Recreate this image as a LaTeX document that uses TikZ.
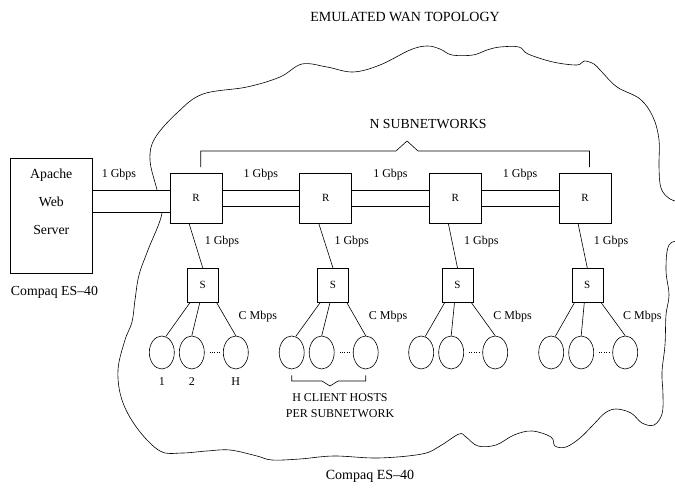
\documentclass[tikz,border=0pt]{standalone}
\usepackage{fontspec}
\setmainfont{Liberation Serif}
\usetikzlibrary{shapes.geometric}

\begin{document}
\begin{tikzpicture}[x=1pt,y=-1pt,line width=0.6pt,
  router/.style={draw,minimum width=52pt,minimum height=50pt,inner sep=0pt,font=\fontsize{11}{13}\selectfont},
  switch/.style={draw,minimum width=31pt,minimum height=34pt,inner sep=0pt,font=\fontsize{11}{13}\selectfont},
  host/.style={draw,ellipse,minimum width=25pt,minimum height=33pt,inner sep=0pt},
  lbl/.style={font=\fontsize{12}{16}\selectfont,inner sep=0pt},
  big/.style={font=\fontsize{13.8}{16}\selectfont,inner sep=0pt}]
\useasboundingbox (0,0) rectangle (675,489);
% the cloud
\draw plot[smooth cycle,tension=0.6] coordinates {(157,190) (150,160) (155,138) (178,112) (203,94) (247,87) (280,77) (302,64) (327,67) (353,72) (380,65) (410,50) (427,46) (440,49) (452,55) (473,55) (487,50) (500,47) (519,47) (528,54) (553,62) (577,65) (584,61) (594,64) (601,71) (617,87) (640,99) (653,117) (659,140) (659,167) (661,188) (670,199) (685,205) (690,222) (683,238) (669,245) (666,270) (669,295) (666,315) (665,345) (662,372) (663,395) (662,414) (654,425) (642,423) (631,413) (616,409) (605,413) (594,424) (580,438) (566,447) (555,446) (551,437) (532,431) (514,435) (496,445) (478,446) (466,437) (459,434) (440,446) (422,454) (378,458) (334,456) (300,459) (272,460) (257,456) (230,450) (207,451) (182,453) (160,451) (137,428) (122,400) (118,370) (125,340) (132,322) (135,300) (139,275) (148,250) (162,213)};
\node[inner sep=0pt,font=\fontsize{14}{16}\selectfont] (title) at (405,17) {EMULATED WAN TOPOLOGY};
\node[inner sep=0pt,font=\fontsize{14}{16}\selectfont] (machine) at (370,476) {Compaq ES–40};
% web server
\node[draw,minimum width=82pt,minimum height=115pt] (apache) at (51.3,215.7) {};
\node[align=center,inner sep=0pt,font=\fontsize{13.8}{28}\selectfont] (apachetxt) at (51.3,202) {Apache\\Web\\Server};
\node[big] (server) at (54.5,292) {Compaq ES–40};
% subnetworks
\foreach \i/\r/\s/\h in {1/196/202.8/161.8,2/325.7/333/291.7,3/455.3/457.5/421.2,4/585/587.3/551.2}{
  \node[router] (r\i) at (\r,198) {R};
  \node[switch] (s\i) at (\s,285.3) {S};
  \node[host] (ha\i) at (\h,352.5) {};
  \node[host] (hb\i) at (\h+30,352.5) {};
  \node[host] (hc\i) at (\h+74,352.5) {};
  \draw ([xshift=-7pt]r\i.south) -- (s\i.north);
  \draw ([xshift=3pt]s\i.south west) -- (ha\i.76);
  \draw ([xshift=-3pt]s\i.south) -- (hb\i.north);
  \draw ([xshift=-2pt]s\i.south east) -- (hc\i.north);
  \draw[dash pattern=on 0.6pt off 1.8pt] ([xshift=5pt]hb\i.east) -- ([xshift=-2pt]hc\i.west);
  \node[lbl] (up\i) at (\r+26,241.7) {1 Gbps};
  \node[lbl] (down\i) at (\s+55,317) {C Mbps};
}
\foreach \i/\j in {1/2,2/3,3/4}{
  \draw ([yshift=7.3pt]r\i.east) -- ([yshift=7.3pt]r\j.west);
  \draw ([yshift=-8.7pt]r\i.east) -- ([yshift=-8.7pt]r\j.west);
  \path (r\i.north east) -- node[lbl,yshift=-2pt] {1 Gbps} (r\j.north west);
}
% pipe to the server
\fill[white] (apache.east |- 0,191) rectangle (r1.west |- 0,212.4);
\draw (apache.east |- 0,190.7) -- (r1.west |- 0,190.7);
\draw (apache.east |- 0,212.7) -- (r1.west |- 0,212.7);
\node[lbl] (link) at (119,175) {1 Gbps};
% braces
\draw ([xshift=4.7pt,yshift=5.5pt]r1.north) |- (396,151) -- (407,141) -- (418,151) -| ([xshift=4.5pt,yshift=5.5pt]r4.north);
\node[big] (nsub) at (428,124) {N SUBNETWORKS};
\draw ([yshift=-6pt]ha2.south) |- (322,381) -- (330,386) -- (338,381) -| ([yshift=-6pt]hc2.south);
\node[lbl,align=center] (hosts) at (340,406) {H CLIENT HOSTS\\PER SUBNETWORK};
\node[lbl] (n1) at ([yshift=-12pt]ha1.south) {1};
\node[lbl] (n2) at ([yshift=-12pt]hb1.south) {2};
\node[lbl] (nh) at ([yshift=-12pt]hc1.south) {H};
\end{tikzpicture}
\end{document}
